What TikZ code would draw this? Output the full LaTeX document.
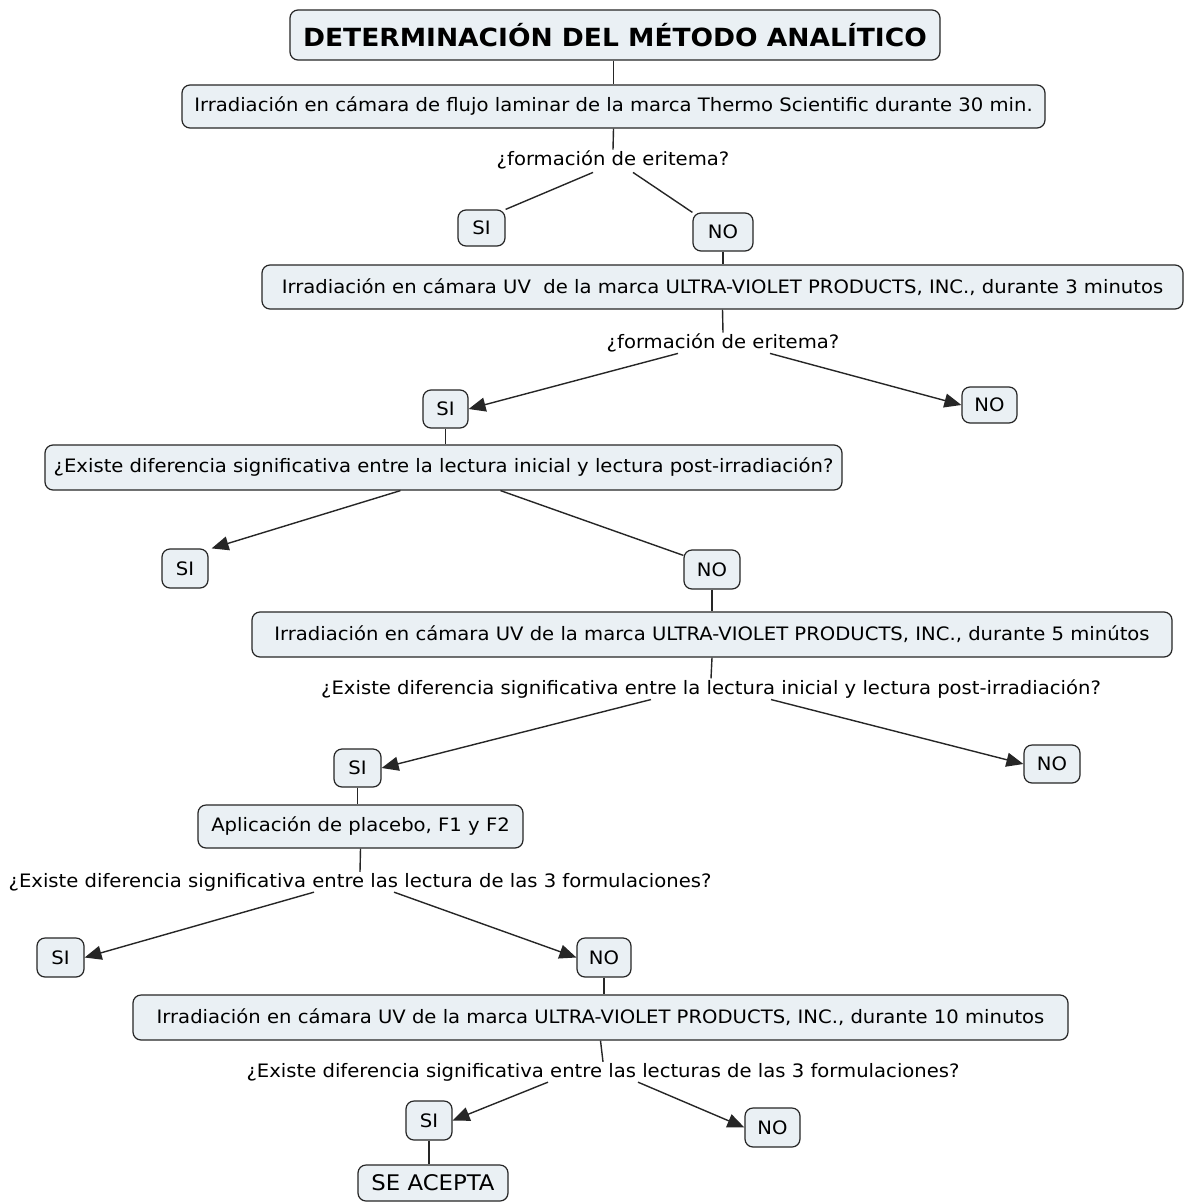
\documentclass[tikz,border=0pt]{standalone}
\usepackage{fontspec}
\setmainfont{DejaVu Sans}[FakeStretch=1.06]
\usetikzlibrary{arrows.meta}
\definecolor{boxfill}{HTML}{EAF0F4}
\definecolor{edgec}{HTML}{262626}
\begin{document}
\begin{tikzpicture}[x=1pt,y=-1pt,
  box/.style={draw=edgec, fill=boxfill, rounded corners=8pt, line width=1.2pt,
    inner sep=0pt, font=\fontsize{18.5}{22}\selectfont},
  answer/.style={box, font=\fontsize{18.5}{22}\selectfont},
  question/.style={inner sep=1pt, font=\fontsize{18.5}{22}\selectfont},
  link/.style={draw=edgec, line width=1.4pt},
  arr/.style={link, -{Triangle[length=17pt,width=14pt]}}]
\useasboundingbox (0,0) rectangle (1187,1202);
\fill[white] (0,0) rectangle (1187,1202);

% boxes
\node[box, minimum width=650, minimum height=50, font=\fontsize{25}{30}\selectfont\bfseries]
  (title) at (615,35) {DETERMINACIÓN DEL MÉTODO ANALÍTICO};
\node[box, minimum width=863, minimum height=43] (b1) at (613.5,106.5)
  {Irradiación en cámara de flujo laminar de la marca Thermo Scientific durante 30 min.};
\node[answer, minimum width=47, minimum height=36] (si1) at (481.5,228) {SI};
\node[answer, minimum width=60, minimum height=38] (no1) at (723,232) {NO};
\node[box, minimum width=921, minimum height=44] (b2) at (722.5,287)
  {Irradiación en cámara UV~~de la marca ULTRA-VIOLET PRODUCTS, INC., durante 3 minutos};
\node[answer, minimum width=45, minimum height=38] (si2) at (445.5,409) {SI};
\node[answer, minimum width=55, minimum height=36] (no2) at (989.5,405) {NO};
\node[box, minimum width=797, minimum height=45] (b3) at (443.5,467.5)
  {¿Existe diferencia significativa entre la lectura inicial y lectura post-irradiación?};
\node[answer, minimum width=46, minimum height=39] (si3) at (185,568.5) {SI};
\node[answer, minimum width=56, minimum height=39] (no3) at (712,569.5) {NO};
\node[box, minimum width=920, minimum height=45] (b4) at (712,634.5)
  {Irradiación en cámara UV de la marca ULTRA-VIOLET PRODUCTS, INC., durante 5 minútos};
\node[answer, minimum width=47, minimum height=38] (si4) at (357.5,768) {SI};
\node[answer, minimum width=56, minimum height=38] (no4) at (1052,764) {NO};
\node[box, minimum width=325, minimum height=43] (b5) at (360.5,826.5)
  {Aplicación de placebo, F1 y F2};
\node[answer, minimum width=47, minimum height=39] (si5) at (60.5,957.5) {SI};
\node[answer, minimum width=54, minimum height=39] (no5) at (604,957.5) {NO};
\node[box, minimum width=935, minimum height=45] (b6) at (600.5,1017.5)
  {Irradiación en cámara UV de la marca ULTRA-VIOLET PRODUCTS, INC., durante 10 minutos};
\node[answer, minimum width=46, minimum height=39] (si6) at (429,1120.5) {SI};
\node[answer, minimum width=55, minimum height=39] (no6) at (772.5,1127.5) {NO};
\node[box, minimum width=150, minimum height=36, font=\fontsize{21.5}{25}\selectfont]
  (acc) at (433,1183) {SE ACEPTA};

% questions
\node[question] (q1) at (613,160) {¿formación de eritema?};
\node[question] (q2) at (723,343) {¿formación de eritema?};
\node[question] (q3) at (711,689)
  {¿Existe diferencia significativa entre la lectura inicial y lectura post-irradiación?};
\node[question] (q4) at (360,882)
  {¿Existe diferencia significativa entre las lectura de las 3 formulaciones?};
\node[question] (q5) at (603,1072)
  {¿Existe diferencia significativa entre las lecturas de las 3 formulaciones?};

% vertical links
\draw[link] (title.south -| b1.north) -- (b1.north);
\draw[link] (b1.south) -- (q1.north);
\draw[link] (no1.south) -- (no1.south |- b2.north);
\draw[link] (b2.south) -- (q2.north);
\draw[link] (si2.south) -- (si2.south |- b3.north);
\draw[link] (no3.south) -- (no3.south |- b4.north);
\draw[link] (b4.south) -- (q3.north);
\draw[link] (si4.south) -- (si4.south |- b5.north);
\draw[link] (b5.south) -- (q4.north);
\draw[link] (no5.south) -- (no5.south |- b6.north);
\draw[link] (b6.south) -- (q5.north);
\draw[link] (si6.south) -- (si6.south |- acc.north);

% branches
\draw[link] ([xshift=-20pt,yshift=-2pt]q1.south) -- (si1.north east);
\draw[link] ([xshift=20pt,yshift=-2pt]q1.south) -- (no1.north west);
\draw[arr] ([xshift=-45pt]q2.south) -- (si2.east);
\draw[arr] ([xshift=47pt]q2.south) -- (no2.west);
\draw[arr] ([xshift=-43pt]b3.south) -- ([xshift=3pt]si3.north east);
\draw[link] ([xshift=57pt]b3.south) -- ([yshift=-6pt]no3.north west);
\draw[arr] ([xshift=-60pt]q3.south) -- (si4.east);
\draw[arr] ([xshift=60pt]q3.south) -- (no4.west);
\draw[arr] ([xshift=-46pt]q4.south) -- (si5.east);
\draw[arr] ([xshift=34pt]q4.south) -- (no5.west);
\draw[arr] ([xshift=-55pt]q5.south) -- (si6.east);
\draw[arr] ([xshift=35pt]q5.south) -- (no6.west);
\end{tikzpicture}
\end{document}
